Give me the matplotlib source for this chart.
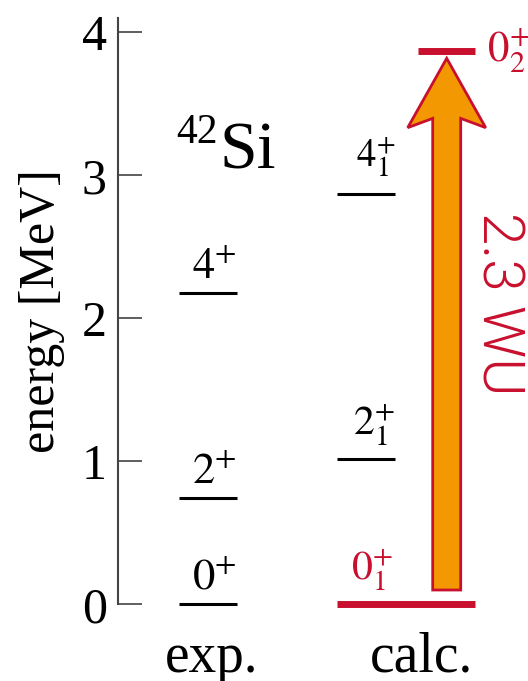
import matplotlib
matplotlib.use("Agg")
import matplotlib.pyplot as plt
from matplotlib.patches import Polygon
from matplotlib.transforms import offset_copy

plt.rcParams['font.family'] = ['Liberation Serif', 'DejaVu Serif']
plt.rcParams['mathtext.fontset'] = 'stix'

# ---- data ----
exp_energies = [0.0, 0.741, 2.175]
exp_labels = ['$0^{+}$', '$2^{+}$', '$4^{+}$']
calc_energies = [0.0, 1.016, 2.867, 3.871]
calc_labels = ['$0^{+}_{1}$', '$2^{+}_{1}$', '$4^{+}_{1}$', '$0^{+}_{2}$']
transition_label = '2.3 WU'
nucleus = ('42', 'Si')
columns = ['exp.', 'calc.']
yticks = [0, 1, 2, 3, 4]

RED = '#c8102e'
ORANGE = '#f39800'

fig = plt.figure(figsize=(5.28, 6.81), dpi=100)
ax = fig.add_axes([118/528, 76.7/681, 400/528, 586.3/681])
ax.set_xlim(0, 4)
ax.set_ylim(0, 4.1)

for s in ['top', 'right', 'bottom']:
    ax.spines[s].set_visible(False)
ax.spines['left'].set_color('#444444')
ax.spines['left'].set_linewidth(1.5)
ax.set_xticks([])
ax.set_yticks(yticks)
ax.tick_params(axis='y', direction='in', length=17, width=1.1, pad=8,
               labelsize=36, color='#333333')
ax.set_ylabel('energy [MeV]', fontsize=36)
ax.yaxis.set_label_coords(-0.1325, 0.5)

# experimental levels
exp_x0, exp_x1 = 0.61, 1.19
lab_tr = offset_copy(ax.transData, fig=fig, x=0, y=4, units='points')
for e, lab in zip(exp_energies, exp_labels):
    ax.plot([exp_x0, exp_x1], [e, e], color='black', lw=2.2,
            solid_capstyle='butt', clip_on=False)
    ax.text(exp_x1, e, lab, ha='right', va='bottom', fontsize=32,
            transform=lab_tr)

# calculated levels
calc_x0, calc_x1 = 2.19, 2.77
gs_x1 = 3.57
ex_x0 = 3.0
lab_tr2 = offset_copy(ax.transData, fig=fig, x=0, y=8, units='points')
lab_tr3 = offset_copy(ax.transData, fig=fig, x=0, y=11, units='points')
# ground state (red, extended)
ax.plot([calc_x0, gs_x1], [calc_energies[0]] * 2, color=RED, lw=5,
        solid_capstyle='butt', clip_on=False)
ax.text(calc_x1 - 0.02, calc_energies[0], calc_labels[0], ha='right',
        va='bottom', fontsize=30, color=RED, transform=lab_tr2)
# 2+ and 4+
ax.plot([calc_x0, calc_x1], [calc_energies[1]] * 2, color='black', lw=2.2,
        solid_capstyle='butt')
ax.text(calc_x1, calc_energies[1], calc_labels[1], ha='right', va='bottom',
        fontsize=30, transform=lab_tr2)
ax.plot([calc_x0, calc_x1], [calc_energies[2]] * 2, color='black', lw=2.2,
        solid_capstyle='butt')
ax.text(calc_x1, calc_energies[2], calc_labels[2], ha='right', va='bottom',
        fontsize=28, transform=lab_tr3)
# 0+_2 (red)
ax.plot([ex_x0, gs_x1], [calc_energies[3]] * 2, color=RED, lw=5,
        solid_capstyle='butt', clip_on=False)
ax.text(gs_x1 + 0.12, calc_energies[3], calc_labels[3], ha='left',
        va='center', fontsize=31, color=RED)

# transition arrow
cx = 3.287
shaft_hw = 0.14
head_hw = 0.39
y_start = calc_energies[0] + 0.10
y_tip = calc_energies[3] - 0.053
y_barb = y_tip - 0.485
y_join = y_tip - 0.42
pts = [(cx - shaft_hw, y_start), (cx - shaft_hw, y_join), (cx - head_hw, y_barb),
       (cx, y_tip), (cx + head_hw, y_barb), (cx + shaft_hw, y_join),
       (cx + shaft_hw, y_start)]
ax.add_patch(Polygon(pts, closed=True, facecolor=ORANGE, edgecolor=RED,
                     lw=2, joinstyle='miter', zorder=3))

ax.text(3.80, 2.10, transition_label, rotation=-90, ha='center', va='center',
        fontsize=42, color=RED, family=['Roboto', 'Liberation Sans'],
        fontweight=300)

# nucleus label
ax.text(1.02, 3.05, nucleus[1], ha='left', va='baseline', fontsize=49)
ax.text(1.0, 3.225, nucleus[0], ha='right', va='baseline', fontsize=30)

# column labels
ax.text(0.94, -0.473, columns[0], ha='center', va='baseline', fontsize=40)
ax.text(3.03, -0.473, columns[1], ha='center', va='baseline', fontsize=40)

fig.savefig('out.png', dpi=100)
